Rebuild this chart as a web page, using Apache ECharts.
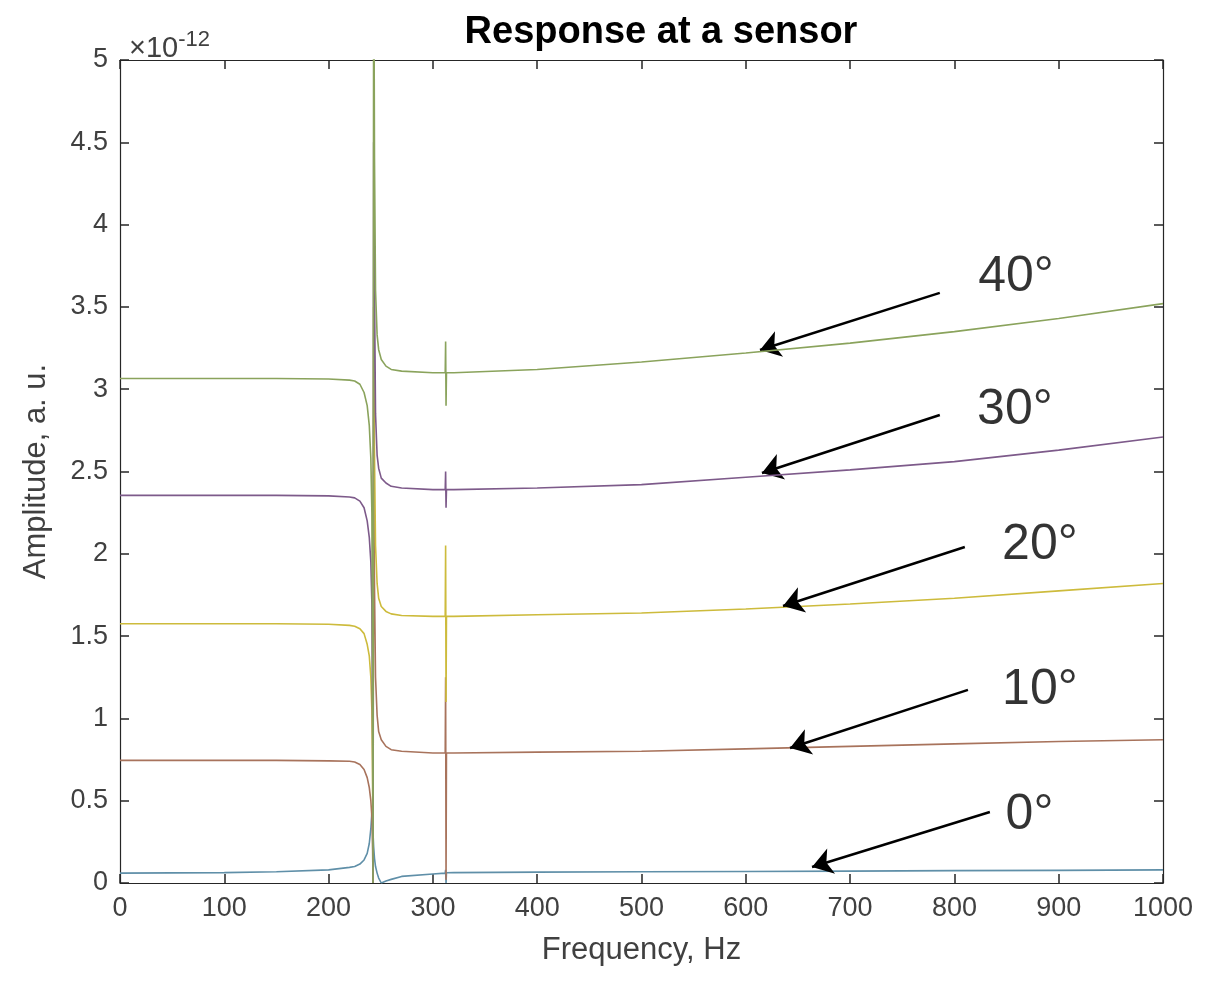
<!DOCTYPE html>
<html>
<head>
<meta charset="utf-8">
<script src="https://cdn.jsdelivr.net/npm/echarts@6/dist/echarts.min.js"></script>
<style>
html,body{margin:0;padding:0;background:#fff;}
#chart{width:1205px;height:988px;}
</style>
</head>
<body>
<div id="chart"></div>
<script>
// Frequency grid (Hz), shared by all series
const freq = [0, 100, 150, 200, 220, 225, 230, 234, 237, 239, 240.5, 241.5, 242.2, 242.6, 243.2, 244, 245, 246.5, 248, 250.5, 255, 260, 270, 300, 311.8, 312.2, 312.6, 313, 320, 400, 500, 600, 700, 800, 900, 1000];

// Amplitudes in units of 1e-12
const amp0 = [0.06, 0.063, 0.068, 0.08, 0.095, 0.1, 0.115, 0.14, 0.18, 0.24, 0.33, 0.43, 0.38, 0.3, 0.22, 0.15, 0.1, 0.06, 0.03, 0.0, 0.012, 0.022, 0.04, 0.055, 0.06, 0.08, 0.0, 0.062, 0.063, 0.066, 0.068, 0.07, 0.072, 0.075, 0.077, 0.08];
const amp10 = [0.745, 0.745, 0.745, 0.742, 0.74, 0.735, 0.72, 0.69, 0.64, 0.58, 0.5, 0.4, 0.2, 0.0, 2.5, 1.8, 1.25, 1.02, 0.92, 0.87, 0.83, 0.81, 0.80, 0.79, 0.79, 1.25, 0.02, 0.79, 0.79, 0.795, 0.80, 0.815, 0.83, 0.845, 0.86, 0.87];
const amp20 = [1.575, 1.575, 1.575, 1.572, 1.565, 1.56, 1.545, 1.515, 1.45, 1.38, 1.25, 1.05, 0.6, 0.0, 3.5, 2.6, 2.05, 1.82, 1.73, 1.68, 1.65, 1.635, 1.625, 1.62, 1.62, 2.05, 1.1, 1.62, 1.62, 1.63, 1.64, 1.665, 1.695, 1.73, 1.775, 1.82];
const amp30 = [2.355, 2.355, 2.355, 2.352, 2.345, 2.34, 2.32, 2.28, 2.2, 2.1, 1.95, 1.7, 0.9, 0.0, 4.5, 3.6, 2.85, 2.6, 2.52, 2.46, 2.43, 2.41, 2.40, 2.39, 2.39, 2.50, 2.28, 2.39, 2.39, 2.40, 2.42, 2.465, 2.51, 2.56, 2.63, 2.71];
const amp40 = [3.065, 3.065, 3.065, 3.062, 3.055, 3.05, 3.03, 2.98, 2.9, 2.78, 2.58, 2.25, 1.2, 0.0, 6.0, 4.4, 3.6, 3.33, 3.24, 3.18, 3.14, 3.12, 3.11, 3.10, 3.10, 3.29, 2.90, 3.10, 3.10, 3.12, 3.165, 3.22, 3.28, 3.35, 3.43, 3.52];

const seriesNames = ['0°', '10°', '20°', '30°', '40°'];
const seriesColors = ['#5f8fa8', '#a8735c', '#cdbb3c', '#7d5a8a', '#8aa35c'];

// Tick labels
const xTicks = [0, 100, 200, 300, 400, 500, 600, 700, 800, 900, 1000];
const yTicks = [0, 0.5, 1, 1.5, 2, 2.5, 3, 3.5, 4, 4.5, 5];

// Annotations (data coordinates)
const annotText = ['40°', '30°', '20°', '10°', '0°'];
const annotTextPos = [[859, 3.68], [858, 2.875], [882, 2.05], [882, 1.17], [872, 0.41]];
const arrowStart = [[786, 3.585], [786, 2.843], [810, 2.041], [813, 1.173], [834, 0.431]];
const arrowEnd = [[613.6, 3.238], [615.5, 2.491], [635.7, 1.683], [642.4, 0.820], [663.5, 0.097]];

const ampAll = [amp0, amp10, amp20, amp30, amp40];
const FONT = '"Liberation Sans", Arial, Helvetica, sans-serif';

const chart = echarts.init(document.getElementById('chart'));

const lineSeries = ampAll.map((arr, i) => ({
  name: seriesNames[i],
  type: 'line',
  data: freq.map((f, k) => [f, arr[k]]),
  showSymbol: false,
  symbol: 'none',
  smooth: false,
  clip: true,
  lineStyle: { color: seriesColors[i], width: 1.6 },
  itemStyle: { color: seriesColors[i] },
  z: 2 + i,
  animation: false
}));

const annotSeries = {
  type: 'scatter',
  data: annotText.map((t, i) => ({ name: t, value: annotTextPos[i] })),
  symbolSize: 0,
  label: {
    show: true, position: 'inside', formatter: '{b}',
    fontFamily: FONT, fontSize: 50, color: '#000'
  },
  markLine: {
    silent: true,
    symbol: ['none', 'arrow'],
    symbolSize: 20,
    label: { show: false },
    lineStyle: { color: '#000', width: 2.5, type: 'solid' },
    data: arrowStart.map((s, i) => [{ coord: s }, { coord: arrowEnd[i] }]),
    animation: false
  },
  z: 20,
  animation: false
};

const axisCommon = {
  type: 'value',
  axisLine: { show: true, onZero: false, lineStyle: { color: '#262626', width: 1.2 } },
  axisTick: { show: true, inside: true, length: 9, lineStyle: { color: '#262626', width: 1.5 } },
  splitLine: { show: false }
};

const plainNum = v => String(v);

chart.setOption({
  animation: false,
  backgroundColor: '#ffffff',
  title: [
    {
      text: 'Response at a sensor',
      left: 656, top: 9, textAlign: 'center',
      textStyle: { fontFamily: FONT, fontWeight: 'bold', fontSize: 38, color: '#000' }
    },
    {
      text: '×10{sup|-12}',
      left: 124, top: 24,
      textStyle: {
        fontFamily: FONT, fontWeight: 'normal', fontSize: 29, color: '#404040',
        rich: { sup: { fontFamily: FONT, fontWeight: 'normal', fontSize: 22, color: '#404040', verticalAlign: 'top', padding: [0, 0, 18, 0] } }
      }
    }
  ],
  grid: { left: 120, right: 42, top: 60, bottom: 105, containLabel: false },
  xAxis: [
    Object.assign({}, axisCommon, {
      min: xTicks[0], max: xTicks[xTicks.length - 1], interval: 100,
      position: 'bottom',
      name: 'Frequency, Hz', nameLocation: 'middle', nameGap: 52,
      nameTextStyle: { fontFamily: FONT, fontSize: 31, color: '#404040' },
      axisLabel: { show: true, fontFamily: FONT, fontSize: 27, color: '#404040', margin: 12, formatter: plainNum }
    }),
    Object.assign({}, axisCommon, {
      min: xTicks[0], max: xTicks[xTicks.length - 1], interval: 100,
      position: 'top', axisLabel: { show: false }
    })
  ],
  yAxis: [
    Object.assign({}, axisCommon, {
      min: yTicks[0], max: yTicks[yTicks.length - 1], interval: 0.5,
      position: 'left',
      name: 'Amplitude, a. u.', nameLocation: 'middle', nameGap: 68, nameRotate: 90,
      nameTextStyle: { fontFamily: FONT, fontSize: 31, color: '#404040' },
      axisLabel: { show: true, fontFamily: FONT, fontSize: 27, color: '#404040', margin: 12, formatter: plainNum }
    }),
    Object.assign({}, axisCommon, {
      min: yTicks[0], max: yTicks[yTicks.length - 1], interval: 0.5,
      position: 'right', axisLabel: { show: false }
    })
  ],
  series: lineSeries.concat([annotSeries])
});
</script>
</body>
</html>
